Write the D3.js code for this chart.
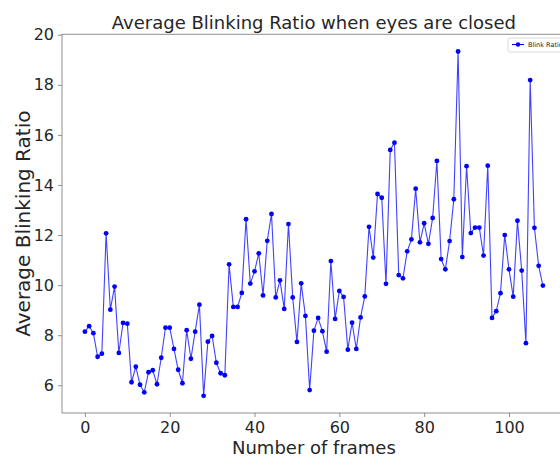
<!DOCTYPE html>
<html>
<head>
<meta charset="utf-8">
<script src="https://cdn.jsdelivr.net/npm/d3@7"></script>
<style>
  body { margin: 0; background: #fff; }
  svg { display: block; font-family: "DejaVu Sans", sans-serif; }
</style>
</head>
<body>
<svg id="chart" width="560" height="460"></svg>
<script>
// blink ratio per frame
var blinkRatio = [
  8.14, 8.36, 8.08, 7.14, 7.26, 12.07, 9.02, 9.94, 7.29, 8.49,
  8.46, 6.12, 6.74, 6.02, 5.72, 6.52, 6.60, 6.04, 7.10, 8.30,
  8.30, 7.45, 6.62, 6.08, 8.20, 7.06, 8.14, 9.22, 5.58, 7.74,
  7.97, 6.90, 6.48, 6.40, 10.83, 9.13, 9.13, 9.69, 12.63, 10.06,
  10.55, 11.27, 9.59, 11.77, 12.84, 9.51, 10.19, 9.05, 12.44, 9.51,
  7.73, 10.07, 8.77, 5.81, 8.18, 8.69, 8.16, 7.34, 10.96, 8.65,
  9.77, 9.53, 7.42, 8.50, 7.45, 8.71, 9.55, 12.33, 11.10, 13.64,
  13.49, 10.05, 15.40, 15.69, 10.40, 10.27, 11.35, 11.83, 13.85, 11.71,
  12.47, 11.65, 12.68, 14.96, 11.04, 10.63, 11.76, 13.43, 19.33, 11.12,
  14.75, 12.08, 12.30, 12.30, 11.18, 14.77, 8.69, 8.96, 9.68, 12.00,
  10.63, 9.54, 12.57, 10.58, 7.68, 18.19, 12.29, 10.77, 9.98
];
var frames = blinkRatio.map(function(d, i) { return i; });
var xTicks = [0, 20, 40, 60, 80, 100];
var yTicks = [6, 8, 10, 12, 14, 16, 18, 20];

var svg = d3.select("#chart");

// plot box (right edge falls just outside the 560px picture)
var plotL = 62, plotR = 565.8, plotT = 34.3, plotB = 413;

// matplotlib style 5% margins around the data
var xExt = d3.extent(frames), yExt = d3.extent(blinkRatio);
var xPad = (xExt[1] - xExt[0]) * 0.05, yPad = (yExt[1] - yExt[0]) * 0.05;

var x = d3.scaleLinear()
  .domain([xExt[0] - xPad, xExt[1] + xPad])
  .range([plotL, plotR]);
var y = d3.scaleLinear()
  .domain([yExt[0] - yPad, yExt[1] + yPad])
  .range([plotB, plotT]);

var spine = "#8f8f8f", ink = "#262626";

// frame
svg.append("rect")
  .attr("x", plotL).attr("y", plotT)
  .attr("width", plotR - plotL).attr("height", plotB - plotT)
  .attr("fill", "none").attr("stroke", spine).attr("stroke-width", 1);

// axes
var xAxis = svg.append("g")
  .attr("transform", "translate(0," + plotB + ")")
  .call(d3.axisBottom(x).tickValues(xTicks).tickSize(4).tickPadding(5));
var yAxis = svg.append("g")
  .attr("transform", "translate(" + plotL + ",0)")
  .call(d3.axisLeft(y).tickValues(yTicks).tickSize(4).tickPadding(4));

[xAxis, yAxis].forEach(function(a) {
  a.select(".domain").remove();
  a.selectAll(".tick line").attr("stroke", spine);
  a.selectAll(".tick text")
    .attr("fill", ink)
    .style("font-family", "DejaVu Sans")
    .style("font-size", "16px");
});

// line + markers
var line = d3.line()
  .x(function(d, i) { return x(frames[i]); })
  .y(function(d) { return y(d); });

svg.append("path")
  .datum(blinkRatio)
  .attr("d", line)
  .attr("fill", "none")
  .attr("stroke", "#0000ff")
  .attr("stroke-opacity", 0.75)
  .attr("stroke-width", 1.1);

svg.append("g").selectAll("circle")
  .data(blinkRatio)
  .enter()
  .append("circle")
  .attr("cx", function(d, i) { return x(frames[i]); })
  .attr("cy", function(d) { return y(d); })
  .attr("r", 2.4)
  .attr("fill", "#0000ff");

// titles
svg.append("text")
  .attr("x", (plotL + plotR) / 2).attr("y", 29)
  .attr("text-anchor", "middle")
  .attr("fill", ink)
  .style("font-size", "18px")
  .text("Average Blinking Ratio when eyes are closed");

svg.append("text")
  .attr("x", (plotL + plotR) / 2).attr("y", 454)
  .attr("text-anchor", "middle")
  .attr("fill", ink)
  .style("font-size", "18px")
  .text("Number of frames");

svg.append("text")
  .attr("transform", "translate(30," + (plotT + plotB) / 2 + ") rotate(-90)")
  .attr("text-anchor", "middle")
  .attr("fill", ink)
  .style("font-size", "20px")
  .text("Average Blinking Ratio");

// legend (cut off by the right edge like the original)
var lg = svg.append("g").attr("transform", "translate(508,38)");
lg.append("rect")
  .attr("width", 70).attr("height", 14).attr("rx", 2)
  .attr("fill", "#fff").attr("stroke", "#d0d0d0").attr("stroke-width", 0.8);
lg.append("line")
  .attr("x1", 4).attr("x2", 16).attr("y1", 6.5).attr("y2", 6.5)
  .attr("stroke", "#0000ff").attr("stroke-width", 1.1);
lg.append("circle").attr("cx", 10).attr("cy", 6.5).attr("r", 2.2).attr("fill", "#0000ff");
lg.append("text")
  .attr("x", 20).attr("y", 9)
  .attr("fill", ink)
  .style("font-size", "6.5px")
  .text("Blink Ratio");
</script>
</body>
</html>
